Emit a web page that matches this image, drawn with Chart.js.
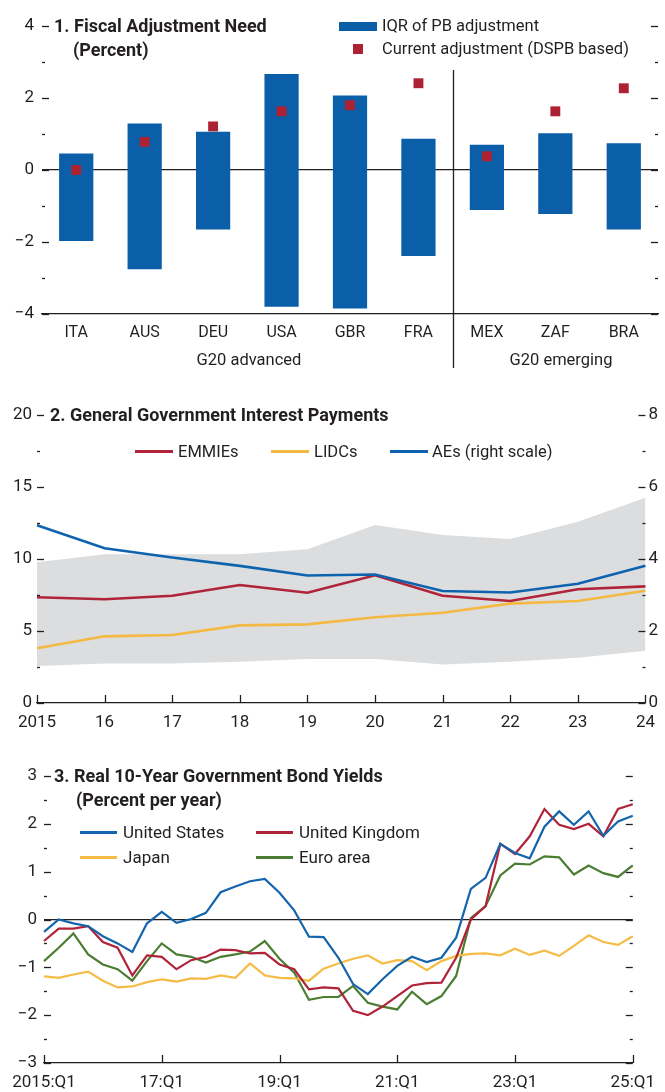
<!DOCTYPE html>
<html>
<head>
<meta charset="utf-8">
<title>Fiscal charts</title>
<script src="https://cdn.jsdelivr.net/npm/chart.js@4.4.1/dist/chart.umd.min.js"></script>
<style>
  body { margin: 0; background: #fff; }
  #page { position: relative; width: 665px; height: 1092px; overflow: hidden; font-family: Roboto, "Liberation Sans", sans-serif; color: #231f20; }
  #page canvas { position: absolute; left: 0; }
  .txt { position: absolute; white-space: nowrap; font-size: 16.5px; line-height: 20px; }
  .bold { font-weight: 700; font-size: 18px; }
  .mid { transform: translateX(-50%); }
  .key { position: absolute; }
</style>
</head>
<body>
<div id="page">
  <canvas id="chart-1" width="665" height="375" style="top:0"></canvas>
  <canvas id="chart-2" width="665" height="335" style="top:395px"></canvas>
  <canvas id="chart-3" width="665" height="337" style="top:755px"></canvas>

  <!-- panel 1 -->
  <div class="txt bold" style="left:54px;top:16px">1. Fiscal Adjustment Need</div>
  <div class="txt bold" style="left:73px;top:40px">(Percent)</div>
  <div class="key" style="left:339px;top:22px;width:38px;height:9px;background:#0b5ea8"></div>
  <div class="txt" style="left:382px;top:16px">IQR of PB adjustment</div>
  <div class="key" style="left:353px;top:44px;width:10px;height:10px;background:#ad2233"></div>
  <div class="txt" style="left:382px;top:39px">Current adjustment (DSPB based)</div>
  <div class="txt mid" style="left:249px;top:350px">G20 advanced</div>
  <div class="txt mid" style="left:561px;top:350px">G20 emerging</div>

  <!-- panel 2 -->
  <div class="txt bold" style="left:50px;top:405px">2. General Government Interest Payments</div>
  <div class="key" style="left:135px;top:450px;width:38px;height:3px;background:#b0243a"></div>
  <div class="txt" style="left:178px;top:442px">EMMIEs</div>
  <div class="key" style="left:271px;top:450px;width:38px;height:3px;background:#f4b942"></div>
  <div class="txt" style="left:314px;top:442px">LIDCs</div>
  <div class="key" style="left:390px;top:450px;width:38px;height:3px;background:#0e63ae"></div>
  <div class="txt" style="left:432px;top:442px">AEs (right scale)</div>

  <!-- panel 3 -->
  <div class="txt bold" style="left:54px;top:766px">3. Real 10-Year Government Bond Yields</div>
  <div class="txt bold" style="left:76px;top:790px">(Percent per year)</div>
  <div class="key" style="left:80px;top:831px;width:37px;height:3px;background:#1565ad"></div>
  <div class="txt" style="left:123px;top:822px;font-size:17px">United States</div>
  <div class="key" style="left:256px;top:831px;width:37px;height:3px;background:#b0243a"></div>
  <div class="txt" style="left:299px;top:822px;font-size:17px">United Kingdom</div>
  <div class="key" style="left:80px;top:856px;width:37px;height:3px;background:#f5bc45"></div>
  <div class="txt" style="left:123px;top:847px;font-size:17px">Japan</div>
  <div class="key" style="left:256px;top:856px;width:37px;height:3px;background:#4b7d33"></div>
  <div class="txt" style="left:299px;top:847px;font-size:17px">Euro area</div>
</div>

<script>
// panel 1: fiscal adjustment need (percent)
const fiscalCountries = ['ITA', 'AUS', 'DEU', 'USA', 'GBR', 'FRA', 'MEX', 'ZAF', 'BRA'];
const iqrLow = [-1.97, -2.76, -1.65, -3.80, -3.85, -2.39, -1.11, -1.22, -1.65];
const iqrHigh = [0.46, 1.29, 1.06, 2.67, 2.07, 0.87, 0.70, 1.02, 0.74];
const currentAdjustment = [0.00, 0.78, 1.21, 1.63, 1.80, 2.41, 0.38, 1.63, 2.27];

// panel 2: general government interest payments
const interestYears = ['2015', '16', '17', '18', '19', '20', '21', '22', '23', '24'];
const emmieInterest = [7.34, 7.20, 7.45, 8.19, 7.66, 8.87, 7.45, 7.08, 7.90, 8.10];
const lidcInterest = [3.80, 4.63, 4.72, 5.39, 5.46, 5.95, 6.27, 6.90, 7.08, 7.80];
const aeInterest = [4.94, 4.30, 4.04, 3.81, 3.54, 3.57, 3.11, 3.07, 3.31, 3.81];
const rangeHigh = [9.77, 10.33, 10.33, 10.33, 10.67, 12.36, 11.67, 11.39, 12.59, 14.26];
const rangeLow = [2.57, 2.75, 2.75, 2.87, 3.06, 3.06, 2.68, 2.87, 3.15, 3.63];

// panel 3: real 10-year government bond yields
const quarters = [
  '15:Q1', '15:Q2', '15:Q3', '15:Q4', '16:Q1', '16:Q2', '16:Q3', '16:Q4',
  '17:Q1', '17:Q2', '17:Q3', '17:Q4', '18:Q1', '18:Q2', '18:Q3', '18:Q4',
  '19:Q1', '19:Q2', '19:Q3', '19:Q4', '20:Q1', '20:Q2', '20:Q3', '20:Q4',
  '21:Q1', '21:Q2', '21:Q3', '21:Q4', '22:Q1', '22:Q2', '22:Q3', '22:Q4',
  '23:Q1', '23:Q2', '23:Q3', '23:Q4', '24:Q1', '24:Q2', '24:Q3', '24:Q4',
  '25:Q1'
];
const bondTickLabels = { '15:Q1': '2015:Q1', '17:Q1': '17:Q1', '19:Q1': '19:Q1', '21:Q1': '21:Q1', '23:Q1': '23:Q1', '25:Q1': '25:Q1' };
const usYield = [-0.26, 0.00, -0.08, -0.14, -0.35, -0.50, -0.68, -0.08, 0.16, -0.07,
  0.01, 0.14, 0.57, 0.69, 0.80, 0.85, 0.56, 0.19, -0.36, -0.37,
  -0.80, -1.35, -1.56, -1.25, -0.97, -0.78, -0.89, -0.80, -0.38, 0.64,
  0.87, 1.58, 1.39, 1.28, 1.94, 2.26, 1.98, 2.26, 1.75, 2.05, 2.17];
const ukYield = [-0.45, -0.19, -0.19, -0.14, -0.47, -0.59, -1.17, -0.75, -0.78, -1.04,
  -0.85, -0.78, -0.63, -0.64, -0.71, -0.70, -0.94, -1.04, -1.46, -1.42,
  -1.44, -1.91, -2.00, -1.82, -1.60, -1.38, -1.33, -1.32, -0.80, 0.00,
  0.28, 1.58, 1.37, 1.74, 2.31, 1.98, 1.89, 2.00, 1.74, 2.31, 2.41];
const japanYield = [-1.19, -1.22, -1.15, -1.09, -1.28, -1.42, -1.40, -1.31, -1.25, -1.30,
  -1.23, -1.24, -1.17, -1.22, -0.92, -1.17, -1.22, -1.23, -1.28, -1.03,
  -0.92, -0.82, -0.75, -0.92, -0.85, -0.87, -1.06, -0.87, -0.76, -0.72,
  -0.71, -0.75, -0.61, -0.74, -0.65, -0.76, -0.55, -0.33, -0.47, -0.53, -0.35];
const euroYield = [-0.87, -0.59, -0.29, -0.73, -0.94, -1.04, -1.28, -0.87, -0.50, -0.73,
  -0.78, -0.90, -0.78, -0.73, -0.67, -0.45, -0.82, -1.11, -1.68, -1.62,
  -1.62, -1.39, -1.74, -1.82, -1.88, -1.51, -1.77, -1.60, -1.18, 0.03,
  0.28, 0.92, 1.17, 1.15, 1.32, 1.30, 0.94, 1.13, 0.97, 0.89, 1.13];

const INK = '#231f20';
const GRID_NONE = 'rgba(0,0,0,0)';
Chart.defaults.font.family = 'Roboto, "Liberation Sans", sans-serif';
Chart.defaults.color = INK;

function signed(v) {
  return v < 0 ? '\u2212' + Math.abs(v) : String(v);
}

// short tick marks beside the plot, long for labelled values and short for the rest
const tickMarks = {
  id: 'tickMarks',
  afterDatasetsDraw(chart, args, opts) {
    const ctx = chart.ctx;
    const a = chart.chartArea;
    ctx.save();
    ctx.strokeStyle = INK;
    ctx.lineWidth = 1.3;
    (opts.sides || []).forEach(side => {
      const scale = chart.scales[side.scale];
      const x0 = side.at === 'left' ? a.left : a.right;
      scale.ticks.forEach(t => {
        const y = Math.round(scale.getPixelForValue(t.value)) + 0.5;
        const major = Math.abs(t.value % side.major) < 1e-9;
        const len = major ? 7 : 3;
        ctx.beginPath();
        ctx.moveTo(x0, y);
        ctx.lineTo(x0 + side.dir * len, y);
        ctx.stroke();
      });
    });
    if (opts.xTicks) {
      const xs = chart.scales.x;
      opts.xTicks.forEach(i => {
        const x = Math.round(xs.getPixelForValue(i)) + 0.5;
        ctx.beginPath();
        ctx.moveTo(x, a.bottom);
        ctx.lineTo(x, a.bottom - 8);
        ctx.stroke();
      });
    }
    ctx.restore();
  }
};

// vertical rule between the advanced and emerging groups
const groupDivider = {
  id: 'groupDivider',
  afterDraw(chart, args, opts) {
    const xs = chart.scales.x;
    const x = Math.round((xs.getPixelForValue(opts.after) + xs.getPixelForValue(opts.after + 1)) / 2) + 0.5;
    const ctx = chart.ctx;
    ctx.save();
    ctx.strokeStyle = INK;
    ctx.lineWidth = 1.3;
    ctx.beginPath();
    ctx.moveTo(x, opts.top);
    ctx.lineTo(x, opts.bottom);
    ctx.stroke();
    ctx.restore();
  }
};

const quiet = { legend: { display: false }, tooltip: { enabled: false } };

new Chart(document.getElementById('chart-1'), {
  type: 'bar',
  data: {
    labels: fiscalCountries,
    datasets: [
      {
        type: 'line',
        label: 'Current adjustment (DSPB based)',
        data: currentAdjustment,
        showLine: false,
        pointStyle: 'rect',
        pointRadius: 7,
        pointBackgroundColor: '#ad2233',
        pointBorderWidth: 0,
        borderWidth: 0,
        order: 0
      },
      {
        label: 'IQR of PB adjustment',
        data: fiscalCountries.map((c, i) => [iqrLow[i], iqrHigh[i]]),
        backgroundColor: '#0b5ea8',
        barPercentage: 0.5,
        categoryPercentage: 1,
        order: 1
      }
    ]
  },
  options: {
    responsive: false,
    animation: false,
    events: [],
    layout: { padding: { top: 26, right: 0, bottom: 0, left: 0 } },
    plugins: Object.assign({}, quiet, {
      tickMarks: { sides: [
        { scale: 'y', at: 'left', major: 2, dir: 1 },
        { scale: 'y', at: 'right', major: 2, dir: -1 }
      ] },
      groupDivider: { after: 5, top: 70, bottom: 368 }
    }),
    scales: {
      x: {
        grid: { display: false, drawTicks: false },
        border: { color: INK, width: 1.3 },
        ticks: { font: { size: 16 }, padding: 9, maxRotation: 0 },
        afterFit: s => { s.height = 61; }
      },
      y: {
        min: -4,
        max: 4,
        ticks: { stepSize: 1, font: { size: 17 }, padding: 8, callback: v => v % 2 === 0 ? signed(v) : '' },
        grid: { drawTicks: false, lineWidth: 1.3, color: c => c.tick && c.tick.value === 0 ? INK : GRID_NONE },
        border: { display: false },
        afterFit: s => { s.width = 42; }
      }
    }
  },
  plugins: [tickMarks, groupDivider]
});

new Chart(document.getElementById('chart-2'), {
  type: 'line',
  data: {
    labels: interestYears,
    datasets: [
      { label: 'AEs (right scale)', data: aeInterest, yAxisID: 'y1', borderColor: '#0e63ae', borderWidth: 2.6, pointRadius: 0, order: 1 },
      { label: 'EMMIEs', data: emmieInterest, yAxisID: 'y', borderColor: '#b0243a', borderWidth: 2.6, pointRadius: 0, order: 2 },
      { label: 'LIDCs', data: lidcInterest, yAxisID: 'y', borderColor: '#f4b942', borderWidth: 2.6, pointRadius: 0, order: 3 },
      { label: 'Range high', data: rangeHigh, yAxisID: 'y', borderWidth: 0, pointRadius: 0, backgroundColor: '#dcdddf', fill: '+1', order: 9 },
      { label: 'Range low', data: rangeLow, yAxisID: 'y', borderWidth: 0, pointRadius: 0, fill: false, order: 10 }
    ]
  },
  options: {
    responsive: false,
    animation: false,
    events: [],
    layout: { padding: { top: 20, right: 0, bottom: 0, left: 0 } },
    plugins: Object.assign({}, quiet, {
      tickMarks: {
        sides: [
          { scale: 'y', at: 'left', major: 5, dir: 1 },
          { scale: 'y1', at: 'right', major: 2, dir: -1 }
        ],
        xTicks: interestYears.map((y, i) => i)
      }
    }),
    scales: {
      x: {
        offset: false,
        grid: { display: false, drawTicks: false },
        border: { color: INK, width: 1.3 },
        ticks: { font: { size: 17 }, padding: 10, maxRotation: 0, autoSkip: false },
        afterFit: s => { s.height = 27; }
      },
      y: {
        position: 'left',
        min: 0,
        max: 20,
        ticks: { stepSize: 2.5, font: { size: 17 }, padding: 5, callback: v => v % 5 === 0 ? String(v) : '' },
        grid: { display: false, drawTicks: false },
        border: { display: false },
        afterFit: s => { s.width = 37; }
      },
      y1: {
        position: 'right',
        min: 0,
        max: 8,
        ticks: { stepSize: 1, font: { size: 17 }, padding: 3, callback: v => v % 2 === 0 ? String(v) : '' },
        grid: { display: false, drawTicks: false },
        border: { display: false },
        afterFit: s => { s.width = 15; }
      }
    }
  },
  plugins: [tickMarks]
});

new Chart(document.getElementById('chart-3'), {
  type: 'line',
  data: {
    labels: quarters,
    datasets: [
      { label: 'United States', data: usYield, borderColor: '#1565ad', borderWidth: 2.2, pointRadius: 0, order: 1 },
      { label: 'United Kingdom', data: ukYield, borderColor: '#b0243a', borderWidth: 2.2, pointRadius: 0, order: 2 },
      { label: 'Japan', data: japanYield, borderColor: '#f5bc45', borderWidth: 2.2, pointRadius: 0, order: 3 },
      { label: 'Euro area', data: euroYield, borderColor: '#4b7d33', borderWidth: 2.2, pointRadius: 0, order: 4 }
    ]
  },
  options: {
    responsive: false,
    animation: false,
    events: [],
    layout: { padding: { top: 21, right: 24, bottom: 0, left: 0 } },
    plugins: Object.assign({}, quiet, {
      tickMarks: {
        sides: [
          { scale: 'y', at: 'left', major: 1, dir: 1 },
          { scale: 'y', at: 'right', major: 1, dir: -1 }
        ],
        xTicks: quarters.map((q, i) => bondTickLabels[q] ? i : -1).filter(i => i >= 0)
      }
    }),
    scales: {
      x: {
        offset: false,
        grid: { display: false, drawTicks: false },
        border: { color: INK, width: 1.3 },
        ticks: {
          font: { size: 17 },
          padding: 10,
          maxRotation: 0,
          autoSkip: false,
          callback: function (v) { return bondTickLabels[this.getLabelForValue(v)] || ''; }
        },
        afterFit: s => { s.height = 29; }
      },
      y: {
        min: -3,
        max: 3,
        ticks: { stepSize: 0.5, font: { size: 17 }, padding: 7, callback: v => Number.isInteger(v) ? signed(v) : '' },
        grid: { drawTicks: false, lineWidth: 1.3, color: c => c.tick && c.tick.value === 0 ? INK : GRID_NONE },
        border: { display: false },
        afterFit: s => { s.width = 44; }
      }
    }
  },
  plugins: [tickMarks]
});
</script>
</body>
</html>
